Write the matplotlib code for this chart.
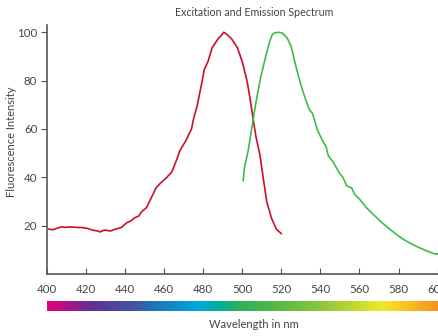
import numpy as np
import matplotlib.pyplot as plt
from matplotlib.colors import LinearSegmentedColormap

# Excitation spectrum (red)
ex_nm = [401, 403, 405, 407.5, 410, 412, 415, 418.5, 421, 423.5, 426, 427,
         429.5, 432.5, 435, 438, 441, 443, 445, 447, 448.5, 451, 453.5, 456,
         458.5, 461, 464, 466.5, 468, 471, 474, 475, 477, 479.5, 480.5, 482.5,
         484.5, 487.5, 489, 490.5, 492, 494.5, 497.5, 500, 502.5, 504, 505.5,
         507, 509, 510.5, 512.5, 515, 517.5, 520]
ex_val = [18.6, 18.3, 18.9, 19.5, 19.3, 19.5, 19.3, 19.2, 18.8, 18.1, 17.8, 17.4,
          18.2, 17.8, 18.5, 19.2, 21.3, 22.0, 23.3, 24.0, 25.8, 27.5, 31.7, 35.8,
          37.9, 39.7, 42.3, 47.5, 51.0, 55.0, 60.0, 64.0, 70.0, 80.0, 84.5, 88.0,
          93.5, 97.2, 98.5, 100.0, 99.2, 97.3, 93.6, 87.8, 79.6, 72.5, 64.5,
          56.8, 49.5, 41.0, 30.0, 23.0, 18.5, 16.7]

# Emission spectrum (green)
em_nm = [500.5, 501, 503, 504.5, 505.5, 507, 509.5, 512, 514, 515.5, 517, 518.5,
         520.5, 523, 525, 527.5, 530, 532.5, 534.5, 536, 538.5, 541, 543, 544,
         546.5, 548, 550, 551.5, 553.5, 556, 557.5, 560, 563.5, 567, 570.5, 574.5,
         580, 584, 589, 594, 598.5, 600]
em_val = [38.6, 43.5, 51.0, 58.5, 63.6, 71.0, 81.7, 90.0, 96.2, 99.3, 99.8, 100.0,
          99.7, 97.6, 94.2, 85.8, 78.2, 72.0, 67.8, 66.4, 59.5, 55.3, 52.5, 49.0,
          46.3, 44.2, 41.4, 40.0, 36.5, 35.6, 33.0, 31.0, 27.5, 24.7, 22.0, 19.2,
          15.7, 13.6, 11.5, 9.7, 8.3, 8.3]

x_ticks = [400, 420, 440, 460, 480, 500, 520, 540, 560, 580, 600]
y_ticks = [20, 40, 60, 80, 100]

# Spectrum colour bar stops
grad_nm = [400, 422, 447, 452, 478, 488, 498, 515, 540, 554, 572, 580, 600]
grad_colors = ['#e5007e', '#662d91', '#3a5ba8', '#1f6fb5', '#00aadb', '#00ad9a',
               '#2db157', '#4fb748', '#8cc63f', '#b6d433', '#f1e92a', '#f8cf25',
               '#f6921e']

plt.rcParams['font.family'] = ['Lato', 'DejaVu Sans']
text_color = '#444444'

fig = plt.figure(figsize=(4.38, 3.36), dpi=100)
ax = fig.add_axes([0.1073, 0.1845, 0.8917, 0.741])

ax.plot(ex_nm, ex_val, color='#c8102e', lw=1.2)
ax.plot(em_nm, em_val, color='#3dbb4a', lw=1.2)

ax.set_xlim(400, 600)
ax.set_ylim(0, 103)
ax.set_xticks(x_ticks)
ax.set_yticks(y_ticks)
ax.tick_params(axis='x', direction='in', length=4, colors='#555555',
               labelsize=8.3, pad=7, labelcolor=text_color)
ax.tick_params(axis='y', direction='out', length=4, colors='#555555',
               labelsize=8.3, pad=3, labelcolor=text_color)
for s in ['top', 'right']:
    ax.spines[s].set_visible(False)
for s in ['left', 'bottom']:
    ax.spines[s].set_color('#555555')
    ax.spines[s].set_linewidth(1.2)

# gradient bar under the axis
cmap = LinearSegmentedColormap.from_list(
    'spec', [((n - 400) / 200, c) for n, c in zip(grad_nm, grad_colors)])
cax = fig.add_axes([0.1073, 0.0753, 0.8917, 0.0298])
cax.imshow(np.linspace(0, 1, 512).reshape(1, -1), aspect='auto', cmap=cmap,
           extent=(400, 600, 0, 1))
cax.set_axis_off()

fig.text(254 / 438, 1 - 12 / 336, 'Excitation and Emission Spectrum',
         ha='center', va='center', fontsize=7.7, color=text_color)
fig.text(254 / 438, 1 - 324 / 336, 'Wavelength in nm',
         ha='center', va='center', fontsize=8, color=text_color)
fig.text(12 / 438, 1 - 142 / 336, 'Fluorescence Intensity', rotation=90,
         ha='center', va='center', fontsize=8, color=text_color)

fig.savefig('out.png', dpi=100)
